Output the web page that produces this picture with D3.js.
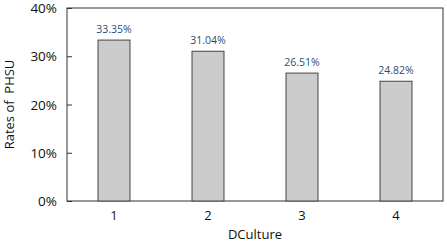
<!DOCTYPE html>
<html><head><meta charset="utf-8">
<script src="https://cdn.jsdelivr.net/npm/d3@7"></script>
<style>body{margin:0;background:#fff}svg{display:block}text{font-family:"Open Sans","DejaVu Sans",sans-serif;white-space:pre}</style>
</head><body><svg id="c" width="447" height="242"></svg>
<script>
const categories = ["1","2","3","4"];
const values = [33.35, 31.04, 26.51, 24.82];
const yTicks = [0, 10, 20, 30, 40];
const xTitle = "DCulture";
const yTitle = "Rates of  PHSU";

const m = {l:67, r:4, t:8, b:41};
const W = 447, H = 242;
const svg = d3.select("#c");
const x = d3.scaleBand().domain(categories).range([m.l, W-m.r]).paddingInner(0.66).paddingOuter(0.33);
const y = d3.scaleLinear().domain([0,40]).range([H-m.b, m.t]);

svg.append("rect").attr("x", m.l).attr("y", m.t).attr("width", W-m.r-m.l).attr("height", H-m.b-m.t)
  .attr("fill","none").attr("stroke","#333").attr("stroke-width",1);

const ya = svg.append("g").attr("transform",`translate(${m.l},0)`)
  .call(d3.axisLeft(y).tickValues(yTicks).tickFormat(d=>d+"%").tickSizeInner(-5).tickSizeOuter(0).tickPadding(10));
ya.select(".domain").remove();
ya.selectAll("line").attr("stroke","#333");
ya.selectAll("text").attr("font-size",13.5).attr("fill","#111").attr("dy","0.34em");

const xa = svg.append("g").attr("transform",`translate(0,${H-m.b})`)
  .call(d3.axisBottom(x).tickSize(0).tickPadding(10));
xa.select(".domain").remove();
xa.selectAll("text").attr("font-size",13).attr("fill","#111");

svg.selectAll(".bar").data(values).join("rect").attr("class","bar")
  .attr("x",(d,i)=>x(categories[i])).attr("y",d=>y(d))
  .attr("width",x.bandwidth()).attr("height",d=>y(0)-y(d))
  .attr("fill","#cccccc").attr("stroke","#444").attr("stroke-width",1);

svg.selectAll(".lbl").data(values).join("text").attr("class","lbl")
  .attr("x",(d,i)=>x(categories[i])+x.bandwidth()/2).attr("y",d=>y(d)-7)
  .attr("text-anchor","middle").attr("font-size",10.5).attr("fill","#1f4e79")
  .text(d=>d.toFixed(2)+"%");

svg.append("text").attr("x",(m.l+W-m.r)/2).attr("y",239).attr("text-anchor","middle")
  .attr("font-size",13).attr("fill","#111").text(xTitle);
svg.append("text").attr("transform",`translate(14,${(m.t+H-m.b)/2}) rotate(-90)`)
  .attr("text-anchor","middle").attr("font-size",13).attr("fill","#111").text(yTitle);
</script></body></html>
